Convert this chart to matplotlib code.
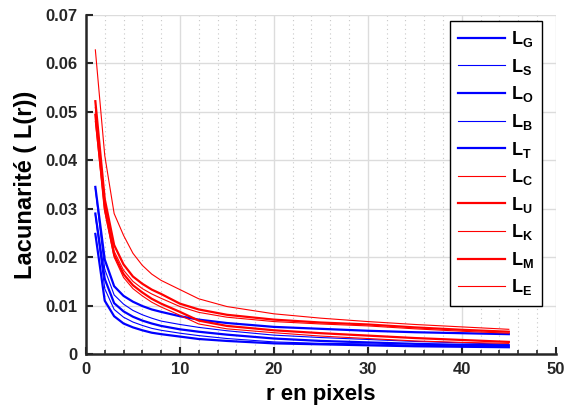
import matplotlib
matplotlib.use("Agg")
import matplotlib.pyplot as plt
from matplotlib.ticker import MultipleLocator

plt.rcParams['font.family'] = ['Liberation Sans', 'DejaVu Sans']
plt.rcParams['mathtext.fontset'] = 'custom'
plt.rcParams['mathtext.bf'] = 'Liberation Sans:bold'
plt.rcParams['mathtext.rm'] = 'Liberation Sans:bold'

r = [1, 2, 3, 4, 5, 6, 7, 8, 10, 12, 15, 20, 25, 30, 35, 40, 45]

L_G = [0.0345, 0.0195, 0.0140, 0.0120, 0.0108, 0.0099, 0.0092, 0.0087, 0.0078, 0.0071, 0.0064, 0.0056, 0.0052, 0.0048, 0.0045, 0.0043, 0.0041]
L_S = [0.0342, 0.0175, 0.0122, 0.0103, 0.0090, 0.0081, 0.0074, 0.0068, 0.0061, 0.0055, 0.0048, 0.0039, 0.0034, 0.0030, 0.0026, 0.0023, 0.0020]
L_O = [0.0290, 0.0155, 0.0105, 0.0088, 0.0077, 0.0069, 0.0063, 0.0058, 0.0051, 0.0046, 0.0040, 0.0032, 0.0027, 0.0024, 0.0021, 0.0019, 0.0018]
L_B = [0.0287, 0.0135, 0.0092, 0.0076, 0.0066, 0.0059, 0.0053, 0.0049, 0.0043, 0.0038, 0.0032, 0.0025, 0.0022, 0.0021, 0.0018, 0.0017, 0.0016]
L_T = [0.0248, 0.0110, 0.0078, 0.0063, 0.0055, 0.0049, 0.0044, 0.0041, 0.0036, 0.0031, 0.0027, 0.0022, 0.0020, 0.0018, 0.0016, 0.0015, 0.0014]
L_C = [0.0628, 0.0410, 0.0290, 0.0245, 0.0208, 0.0183, 0.0165, 0.0152, 0.0133, 0.0114, 0.0098, 0.0083, 0.0074, 0.0067, 0.0061, 0.0056, 0.0051]
L_U = [0.0522, 0.0320, 0.0225, 0.0185, 0.0160, 0.0145, 0.0133, 0.0124, 0.0104, 0.0092, 0.0081, 0.0071, 0.0065, 0.0061, 0.0055, 0.0050, 0.0046]
L_K = [0.0509, 0.0310, 0.0212, 0.0173, 0.0150, 0.0135, 0.0124, 0.0115, 0.0098, 0.0086, 0.0076, 0.0067, 0.0062, 0.0058, 0.0052, 0.0047, 0.0043]
L_M = [0.0494, 0.0300, 0.0205, 0.0165, 0.0142, 0.0127, 0.0114, 0.0104, 0.0087, 0.0069, 0.0058, 0.0049, 0.0043, 0.0038, 0.0033, 0.0029, 0.0025]
L_E = [0.0480, 0.0295, 0.0200, 0.0158, 0.0135, 0.0120, 0.0107, 0.0097, 0.0080, 0.0062, 0.0052, 0.0044, 0.0037, 0.0032, 0.0027, 0.0024, 0.0022]

series = [("G", L_G), ("S", L_S), ("O", L_O), ("B", L_B), ("T", L_T),
          ("C", L_C), ("U", L_U), ("K", L_K), ("M", L_M), ("E", L_E)]
colors = ["#0000ff"] * 5 + ["#ff0000"] * 5
widths = [1.6, 0.8, 1.6, 0.8, 1.6, 0.8, 1.6, 0.8, 1.6, 0.8]

fig = plt.figure(figsize=(5.73, 4.16), dpi=100)
ax = fig.add_axes([0.150, 0.149, 0.820, 0.815])

for (name, vals), c, w in zip(series, colors, widths):
    ax.plot(r, vals, color=c, lw=w, label=r'$\mathbf{L_{%s}}$' % name)

ax.set_xlim(0, 50)
ax.set_ylim(0, 0.07)
ax.xaxis.set_major_locator(MultipleLocator(10))
ax.xaxis.set_minor_locator(MultipleLocator(2))
ax.set_yticks([0, 0.01, 0.02, 0.03, 0.04, 0.05, 0.06, 0.07])
ax.set_yticklabels(['0', '0.01', '0.02', '0.03', '0.04', '0.05', '0.06', '0.07'])

ax.grid(True, which='major', color='#dcdcdc', lw=1.0)
ax.grid(True, which='minor', axis='x', color='#c8c8c8', lw=0.8, ls=(0, (1, 3)))
ax.set_axisbelow(True)

for s in ['top', 'right']:
    ax.spines[s].set_visible(False)
for s in ['left', 'bottom']:
    ax.spines[s].set_linewidth(1.8)
    ax.spines[s].set_color('#262626')

ax.tick_params(axis='both', which='major', direction='in', length=5, width=1.5,
               labelsize=12, colors='#262626', pad=6)
ax.tick_params(axis='x', which='minor', direction='in', length=3, width=1.2, colors='#262626')
for lab in ax.get_xticklabels() + ax.get_yticklabels():
    lab.set_fontweight('bold')

ax.set_xlabel('r en pixels', fontsize=16, fontweight='bold', labelpad=5)
ax.set_ylabel('Lacunarité ( L(r))', fontsize=17, fontweight='bold', labelpad=6)

leg = ax.legend(loc='upper right', bbox_to_anchor=(0.970, 0.982), borderaxespad=0,
                fontsize=13, frameon=True, fancybox=False, edgecolor='black', framealpha=1,
                handlelength=2.6, labelspacing=0.42, borderpad=0.45, handletextpad=0.3)
leg.get_frame().set_linewidth(1.0)

fig.savefig('out.png', dpi=100)
